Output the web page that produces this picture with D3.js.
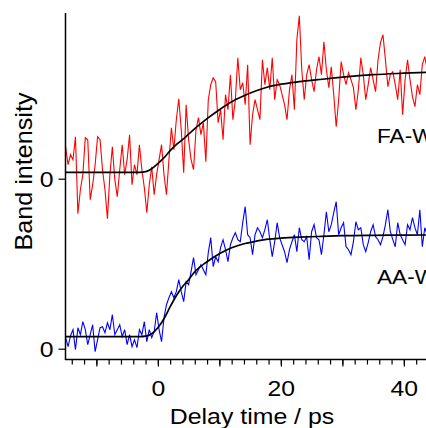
<!DOCTYPE html>
<html><head><meta charset="utf-8">
<script src="https://cdn.jsdelivr.net/npm/d3@7"></script>
<style>
html,body{margin:0;padding:0;background:#fff;}
svg{display:block;}
text{font-family:"Liberation Sans",Arial,sans-serif;fill:#000;}
</style></head>
<body>
<svg id="chart" width="426" height="428"></svg>
<script>
// Sampling grid of the measured traces (ps)
const tStart = -15, tStep = 0.4;
// FA-W trace (red), intensity relative to its own zero
const faW = [0.32,0.14,0.24,0.19,0.42,-0.35,-0.11,0.04,0.41,0.39,-0.21,-0.06,0.14,0.42,0.39,0.09,-0.11,-0.40,0.04,0.32,
-0.01,-0.18,0.09,0.34,0.04,0.19,0.44,-0.06,0.14,0.04,0.34,0.09,-0.09,-0.34,-0.06,0.12,-0.16,0.04,0.19,0.34,
0.04,-0.16,0.19,0.51,0.29,0.59,0.80,0.49,0.06,0.74,0.39,0.19,0.09,0.49,0.61,0.44,0.56,0.17,0.79,0.94,
1.01,0.97,0.56,0.69,0.39,0.84,0.69,1.04,0.59,0.79,1.21,0.89,0.96,0.74,1.14,0.34,0.64,0.79,0.69,0.59,
1.19,0.94,1.11,0.89,1.21,0.79,0.99,0.94,0.84,0.74,0.59,0.89,1.04,0.69,1.39,1.63,1.09,0.79,1.04,1.14,
0.99,0.87,1.09,1.22,1.04,1.37,1.09,0.91,1.12,0.84,0.52,0.79,1.17,1.04,0.94,1.06,0.99,0.91,0.69,0.89,
1.21,1.04,0.79,0.94,1.11,0.99,0.87,1.19,1.36,1.44,1.19,0.92,1.04,1.07,0.94,0.79,1.09,0.64,0.99,1.19,
0.99,0.82,0.72,0.94,0.84,1.14,1.22,1.09];
// AA-W trace (blue), intensity relative to its own zero
const aaW = [0.11,0.02,0.13,0.19,-0.01,0.21,0.14,0.27,0.19,0.04,0.14,0.24,-0.03,0.09,0.21,0.22,0.16,0.26,0.19,0.34,
0.14,0.19,0.24,0.12,0.19,0.04,0.14,0.02,0.09,0.01,0.19,0.14,0.27,0.07,0.19,0.11,0.17,0.36,0.19,0.07,
0.31,0.44,0.51,0.57,0.51,0.57,0.69,0.57,0.47,0.67,0.64,0.77,0.91,0.74,0.79,0.84,0.79,0.74,0.96,1.11,
0.82,0.92,0.87,1.01,1.09,0.99,0.87,1.04,1.11,1.16,1.09,1.07,1.26,1.42,1.14,1.11,0.94,1.14,1.21,1.17,
1.11,1.19,1.29,1.09,0.92,1.07,1.26,1.11,1.04,0.97,0.86,0.99,1.07,1.14,0.97,1.21,1.09,1.07,1.12,0.89,
1.17,1.24,1.11,1.09,0.94,1.14,1.37,1.17,1.24,1.36,1.47,1.14,1.21,1.26,1.02,0.99,0.94,1.07,1.27,1.19,
1.21,1.04,0.97,1.06,1.17,1.24,1.12,1.09,1.04,1.12,1.24,1.39,1.17,1.09,1.02,1.26,1.14,1.09,1.04,1.24,
1.19,1.31,1.21,1.14,1.39,1.02,1.21,1.14];
// Fitted curves (black)
const fitT   = [-15,-4,-3,-2,-1,0,1,2,3,4,5,6,8,10,12,14,16,18,20,23,26,30,35,40,44];
const faFit  = [0.063,0.063,0.064,0.07,0.10,0.15,0.21,0.28,0.34,0.39,0.445,0.50,0.60,0.69,0.77,0.83,0.88,0.92,0.945,0.97,0.99,1.015,1.04,1.055,1.065];
const aaFit  = [0.12,0.12,0.12,0.125,0.15,0.21,0.30,0.42,0.53,0.62,0.69,0.77,0.87,0.95,1.01,1.05,1.075,1.095,1.105,1.115,1.122,1.13,1.134,1.136,1.137];
// Vertical offset of the FA-W trace (its zero) in the stacked plot
const faOffset = 1.70;
const xTickLabels = [0, 20, 40];
const yTickLabels = ["0", "0"];
const faLabel = "FA-W", aaLabel = "AA-W";

const svg = d3.select("#chart");
const W = 426, H = 428;
const x = d3.scaleLinear().domain([-15.1, 43.6]).range([65, 426]);
const y = d3.scaleLinear().domain([-0.113, 3.357]).range([360, 13]);

// reference glyphs are slightly wider than Arial: stretch horizontally
function widen(sel, k) {
  sel.each(function() {
    const len = this.getComputedTextLength();
    d3.select(this).attr("textLength", len * k).attr("lengthAdjust", "spacingAndGlyphs");
  });
}

const times = faW.map((_, i) => tStart + i * tStep);

svg.append("defs").append("clipPath").attr("id","clip")
  .append("rect").attr("x",65).attr("y",0).attr("width",W-65).attr("height",360);

const g = svg.append("g").attr("clip-path","url(#clip)");
const lineGen = off => d3.line().x(d => x(d[0])).y(d => y(d[1] + off));

g.append("path").datum(times.map((t,i)=>[t,faW[i]]))
  .attr("d", lineGen(faOffset)).attr("fill","none").attr("stroke","#ff0000").attr("stroke-width",1.1);
g.append("path").datum(times.map((t,i)=>[t,aaW[i]]))
  .attr("d", lineGen(0)).attr("fill","none").attr("stroke","#0000ff").attr("stroke-width",1.1);

const fitLine = off => d3.line().curve(d3.curveMonotoneX).x(d => x(d[0])).y(d => y(d[1] + off));
g.append("path").datum(fitT.map((t,i)=>[t,faFit[i]]))
  .attr("d", fitLine(faOffset)).attr("fill","none").attr("stroke","#000").attr("stroke-width",1.7);
g.append("path").datum(fitT.map((t,i)=>[t,aaFit[i]]))
  .attr("d", fitLine(0)).attr("fill","none").attr("stroke","#000").attr("stroke-width",1.7);

// Axes
const xAxisMinor = d3.axisBottom(x).tickValues(d3.range(-14, 44, 2)).tickSize(5).tickFormat("");
const xAxisMajor = d3.axisBottom(x).tickValues([-10,0,10,20,30,40]).tickSize(7)
  .tickFormat(d => xTickLabels.includes(d) ? d : "");
const gxm = svg.append("g").attr("transform","translate(0,359.5)").call(xAxisMinor);
const gx = svg.append("g").attr("transform","translate(0,359.5)").call(xAxisMajor);
[gxm, gx].forEach(a => {
  a.select(".domain").remove();
  a.selectAll(".tick line").attr("stroke","#000").attr("stroke-width",1.2);
});
gx.selectAll(".tick text").attr("font-size",21.5).attr("dy",0).attr("y",36.5)
  .style("font-family","'Liberation Sans',Arial,sans-serif");
widen(gx.selectAll(".tick text").filter(function(){ return this.textContent !== ""; }), 1.15);
svg.append("line").attr("x1",65).attr("x2",426).attr("y1",359.5).attr("y2",359.5)
  .attr("stroke","#000").attr("stroke-width",1.5);

const yAxis = d3.axisLeft(y).tickValues([0, faOffset]).tickSize(7)
  .tickFormat((d,i) => yTickLabels[i]);
const gy = svg.append("g").attr("transform","translate(65.5,0)").call(yAxis);
gy.select(".domain").remove();
gy.selectAll(".tick line").attr("stroke","#000").attr("stroke-width",1.2);
gy.selectAll(".tick text").attr("font-size",21.5).attr("x",-12).attr("dy","0.36em")
  .style("font-family","'Liberation Sans',Arial,sans-serif");
widen(gy.selectAll(".tick text"), 1.15);
svg.append("line").attr("x1",65.5).attr("x2",65.5).attr("y1",13).attr("y2",360)
  .attr("stroke","#000").attr("stroke-width",1.5);

// Axis titles
const xt = svg.append("text").attr("x",252).attr("y",424).attr("text-anchor","middle")
  .attr("font-size",22).text("Delay time / ps");
widen(xt, 1.13);
svg.append("text").attr("transform","translate(32,171.5) rotate(-90)").attr("text-anchor","middle")
  .attr("font-size",24).attr("textLength",158).attr("lengthAdjust","spacingAndGlyphs").text("Band intensity");

// Trace labels
const l1 = svg.append("text").attr("x",377).attr("y",143).attr("font-size",20).text(faLabel);
const l2 = svg.append("text").attr("x",377).attr("y",284).attr("font-size",20).text(aaLabel);
widen(l1, 1.13); widen(l2, 1.13);
</script>
</body></html>
